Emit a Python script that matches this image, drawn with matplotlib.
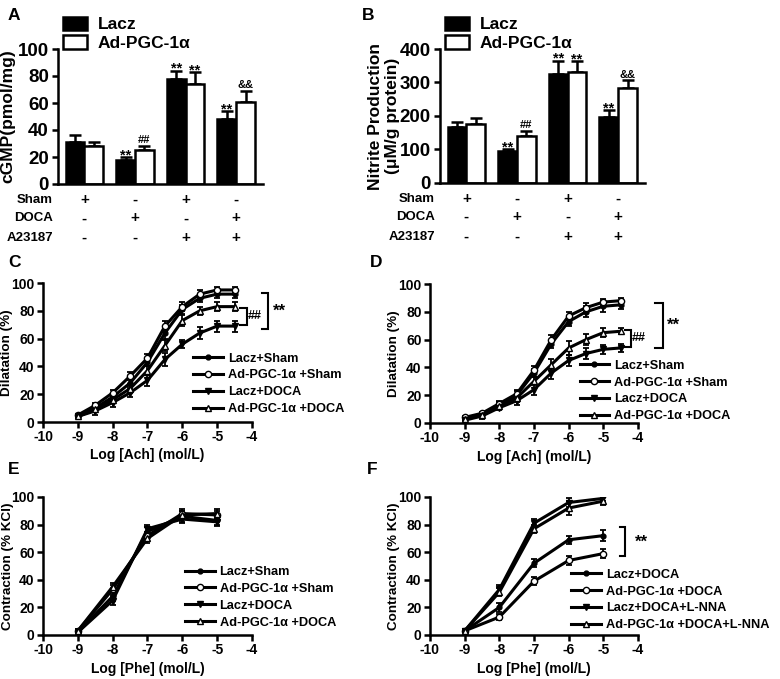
import matplotlib
matplotlib.use("Agg")
import matplotlib.pyplot as plt
import matplotlib.transforms as mtransforms
from matplotlib.patches import Patch
import numpy as np

plt.rcParams["font.family"] = ["Liberation Sans", "DejaVu Sans"]
plt.rcParams["font.weight"] = "bold"
plt.rcParams["axes.labelweight"] = "bold"
plt.rcParams["axes.unicode_minus"] = False

# ---- bar panels (A, B) ----
groups = np.arange(4)
sham_row = ["+", "-", "+", "-"]
doca_row = ["-", "+", "-", "+"]
a23187_row = ["-", "-", "+", "+"]

cgmp_lacz = [31, 18, 78, 48]
cgmp_lacz_err = [5, 2, 6, 6]
cgmp_ad = [28, 25, 74, 61]
cgmp_ad_err = [3, 3, 9, 8]
cgmp_lacz_sig = ["", "**", "**", "**"]
cgmp_ad_sig = ["", "##", "**", "&&"]

no_lacz = [168, 95, 325, 198]
no_lacz_err = [14, 5, 40, 20]
no_ad = [175, 140, 330, 283]
no_ad_err = [18, 15, 33, 23]
no_lacz_sig = ["", "**", "**", "**"]
no_ad_sig = ["", "##", "**", "&&"]

# ---- curve panels (C-F) ----
ach_x = [-9, -8.5, -8, -7.5, -7, -6.5, -6, -5.5, -5, -4.5]
phe_x = [-9, -8, -7, -6, -5]

c_lacz_sham = [4, 10, 18, 28, 43, 64, 81, 89, 92, 92]
c_lacz_sham_err = [1, 2, 2, 3, 3, 4, 3, 3, 3, 3]
c_ad_sham = [5, 12, 21, 33, 46, 69, 83, 92, 95, 95]
c_ad_sham_err = [1, 2, 2, 3, 3, 4, 3, 3, 2, 2]
c_lacz_doca = [4, 8, 14, 21, 30, 45, 56, 64, 69, 69]
c_lacz_doca_err = [1, 3, 3, 3, 4, 5, 3, 4, 4, 4]
c_ad_doca = [4, 9, 16, 24, 37, 55, 73, 80, 83, 83]
c_ad_doca_err = [1, 2, 2, 3, 3, 4, 4, 3, 3, 3]

d_lacz_sham = [3, 6, 13, 20, 36, 57, 73, 80, 84, 85]
d_lacz_sham_err = [1, 1, 2, 3, 3, 3, 3, 4, 4, 3]
d_ad_sham = [4, 7, 14, 21, 38, 60, 77, 83, 87, 88]
d_ad_sham_err = [1, 1, 2, 3, 3, 3, 3, 3, 2, 2]
d_lacz_doca = [2, 5, 11, 16, 24, 36, 45, 50, 53, 54]
d_lacz_doca_err = [1, 2, 2, 3, 4, 4, 4, 4, 3, 3]
d_ad_doca = [3, 6, 12, 18, 30, 42, 54, 60, 65, 66]
d_ad_doca_err = [1, 2, 2, 3, 3, 4, 5, 4, 3, 2]

e_lacz_sham = [2, 28, 75, 86, 83]
e_lacz_sham_err = [1, 3, 3, 4, 3]
e_ad_sham = [3, 33, 72, 88, 87]
e_ad_sham_err = [1, 3, 3, 3, 3]
e_lacz_doca = [2, 25, 77, 84, 82]
e_lacz_doca_err = [1, 3, 3, 3, 3]
e_ad_doca = [3, 35, 70, 87, 88]
e_ad_doca_err = [1, 3, 3, 3, 3]

f_lacz_doca = [3, 20, 52, 69, 72]
f_lacz_doca_err = [1, 3, 3, 3, 4]
f_ad_doca = [3, 13, 39, 54, 59]
f_ad_doca_err = [1, 2, 3, 3, 3]
f_lacz_lnna = [3, 33, 81, 96, 99]
f_lacz_lnna_err = [1, 3, 3, 3, 2]
f_ad_lnna = [3, 31, 77, 92, 97]
f_ad_lnna_err = [1, 3, 3, 5, 3]

labels_cde = ["Lacz+Sham", "Ad-PGC-1α +Sham", "Lacz+DOCA", "Ad-PGC-1α +DOCA"]
labels_f = ["Lacz+DOCA", "Ad-PGC-1α +DOCA", "Lacz+DOCA+L-NNA", "Ad-PGC-1α +DOCA+L-NNA"]

W, H = 780, 679
fig = plt.figure(figsize=(W / 100, H / 100), dpi=100)


def rect(l, t, r, b):
    return [l / W, 1 - b / H, (r - l) / W, (b - t) / H]


def style(ax, fs, pad=2.5):
    for s in ["top", "right"]:
        ax.spines[s].set_visible(False)
    for s in ["left", "bottom"]:
        ax.spines[s].set_linewidth(1.8)
    ax.tick_params(width=1.8, length=4, labelsize=fs, direction="out", pad=pad)
    for t in ax.get_xticklabels() + ax.get_yticklabels():
        t.set_fontweight("bold")


def bar_panel(ax, lacz, lacz_err, ad, ad_err, lacz_sig, ad_sig, ymax, step, ylabel, ylx):
    w = 0.37
    ax.bar(groups - w / 2, lacz, w, color="black", edgecolor="black", lw=1.8, zorder=2)
    ax.bar(groups + w / 2, ad, w, color="white", edgecolor="black", lw=1.8, zorder=2)
    ax.errorbar(groups - w / 2, lacz, yerr=[np.zeros(4), lacz_err], fmt="none",
                ecolor="black", elinewidth=1.8, capsize=4, capthick=1.8, zorder=1)
    ax.errorbar(groups + w / 2, ad, yerr=[np.zeros(4), ad_err], fmt="none",
                ecolor="black", elinewidth=1.8, capsize=4, capthick=1.8, zorder=1)
    for i in groups:
        for xo, m, e, s in [(-w / 2, lacz[i], lacz_err[i], lacz_sig[i]),
                            (w / 2, ad[i], ad_err[i], ad_sig[i])]:
            if s == "**":
                ax.annotate(s, (i + xo, m + e), xytext=(0, -1.5), textcoords="offset points",
                            ha="center", va="baseline", fontsize=10.5, fontweight="bold")
            elif s:
                ax.annotate(s, (i + xo, m + e), xytext=(0, 2), textcoords="offset points",
                            ha="center", va="baseline", fontsize=8, fontweight="bold")
    ax.set_xlim(-0.52, 3.53)
    ax.set_ylim(0, ymax)
    ax.set_yticks(np.arange(0, ymax + 1, step))
    ax.set_xticks([])
    ax.set_ylabel(ylabel, fontsize=12.5)
    ax.yaxis.set_label_coords(ylx, 0.5)
    style(ax, 13.5)
    trans = mtransforms.blended_transform_factory(ax.transData, ax.transAxes)
    for row, name, yy in [(sham_row, "Sham", -0.12), (doca_row, "DOCA", -0.255),
                          (a23187_row, "A23187", -0.40)]:
        ax.text(-0.025, yy, name, transform=ax.transAxes, ha="right", va="center",
                fontsize=9.5, fontweight="bold")
        for i, s in zip(groups, row):
            ax.text(i, yy, s, transform=trans, ha="center", va="center",
                    fontsize=11, fontweight="bold")
    ax.legend(handles=[Patch(facecolor="black", edgecolor="black", lw=1.8),
                       Patch(facecolor="white", edgecolor="black", lw=1.8)],
              labels=["Lacz", "Ad-PGC-1α"], loc="lower left",
              bbox_to_anchor=(0.025, 0.985), frameon=False, fontsize=12.5,
              handlelength=1.4, handleheight=0.85, handletextpad=0.6,
              labelspacing=0.15, borderpad=0, borderaxespad=0)


def curve_panel(ax, x, series, labels, xlabel, ylabel, legpos, ylx):
    markers = [("o", "black", 3.5), ("o", "white", 4.5), ("v", "black", 4.5), ("^", "white", 4.5)]
    handles = []
    for (m, fc, ms), (vals, err) in zip(markers, series):
        ax.errorbar(x, vals, yerr=err, fmt="none", ecolor="black", elinewidth=1.3,
                    capsize=2.5, capthick=1.3, zorder=2)
        h, = ax.plot(x, vals, color="black", lw=2.2, marker=m, markerfacecolor=fc,
                     markeredgecolor="black", markeredgewidth=1.0, markersize=ms, zorder=3)
        handles.append(h)
    ax.set_xlim(-10, -4)
    ax.set_ylim(0, 100)
    ax.set_xticks(np.arange(-10, -3, 1))
    ax.set_yticks(np.arange(0, 101, 20))
    ax.set_xlabel(xlabel, fontsize=10, labelpad=3)
    ax.set_ylabel(ylabel, fontsize=9.7)
    ax.yaxis.set_label_coords(ylx, 0.5)
    style(ax, 10, pad=2)
    ax.legend(handles, labels, loc="upper left", bbox_to_anchor=legpos, frameon=False,
              fontsize=9.2, handlelength=2.3, handletextpad=0.4, labelspacing=0.38,
              borderpad=0, borderaxespad=0)


def bracket(ax, x0, x1, ytop, ybot, text, tx, fs):
    ax.plot([x0, x1, x1, x0], [ytop, ytop, ybot, ybot], color="black", lw=1.5,
            clip_on=False, solid_joinstyle="miter")
    ax.text(tx, (ytop + ybot) / 2, text, ha="left", va="center", fontsize=fs,
            fontweight="bold", clip_on=False)


# A
axA = fig.add_axes(rect(58, 49, 263, 184))
bar_panel(axA, cgmp_lacz, cgmp_lacz_err, cgmp_ad, cgmp_ad_err, cgmp_lacz_sig, cgmp_ad_sig,
          100, 20, "cGMP(pmol/mg)", -0.21)

# B
axB = fig.add_axes(rect(440, 49, 645, 183))
bar_panel(axB, no_lacz, no_lacz_err, no_ad, no_ad_err, no_lacz_sig, no_ad_sig,
          400, 100, "Nitrite Production\n(μM/g protein)", -0.195)

# C
axC = fig.add_axes(rect(43, 283, 252, 422))
curve_panel(axC, ach_x,
            [(c_lacz_sham, c_lacz_sham_err), (c_ad_sham, c_ad_sham_err),
             (c_lacz_doca, c_lacz_doca_err), (c_ad_doca, c_ad_doca_err)],
            labels_cde, "Log [Ach] (mol/L)", "Dilatation (%)", (0.72, 0.50), -0.142)
bracket(axC, -4.34, -4.14, 82, 70, "##", -4.12, 9)
bracket(axC, -3.72, -3.55, 93, 67, "**", -3.4, 12)

# D
axD = fig.add_axes(rect(430, 284, 638, 423))
curve_panel(axD, ach_x,
            [(d_lacz_sham, d_lacz_sham_err), (d_ad_sham, d_ad_sham_err),
             (d_lacz_doca, d_lacz_doca_err), (d_ad_doca, d_ad_doca_err)],
            labels_cde, "Log [Ach] (mol/L)", "Dilatation (%)", (0.72, 0.455), -0.142)
bracket(axD, -4.38, -4.2, 67, 55, "##", -4.18, 9)
bracket(axD, -3.5, -3.28, 86, 54, "**", -3.16, 12)

# E
axE = fig.add_axes(rect(43, 497, 252, 635))
curve_panel(axE, phe_x,
            [(e_lacz_sham, e_lacz_sham_err), (e_ad_sham, e_ad_sham_err),
             (e_lacz_doca, e_lacz_doca_err), (e_ad_doca, e_ad_doca_err)],
            labels_cde, "Log [Phe] (mol/L)", "Contraction (% KCl)", (0.68, 0.50), -0.14)

# F
axF = fig.add_axes(rect(430, 497, 638, 635))
curve_panel(axF, phe_x,
            [(f_lacz_doca, f_lacz_doca_err), (f_ad_doca, f_ad_doca_err),
             (f_lacz_lnna, f_lacz_lnna_err), (f_ad_lnna, f_ad_lnna_err)],
            labels_f, "Log [Phe] (mol/L)", "Contraction (% KCl)", (0.68, 0.48), -0.142)
bracket(axF, -4.52, -4.38, 78, 57, "**", -4.08, 12)

# panel letters
for letter, px, py in [("A", 8, 15), ("B", 362, 15), ("C", 8, 263),
                       ("D", 370, 263), ("E", 8, 470), ("F", 367, 470)]:
    fig.text(px / W, 1 - py / H, letter, fontsize=12.5, fontweight="bold",
             ha="left", va="center")

fig.savefig("out.png", dpi=100)
